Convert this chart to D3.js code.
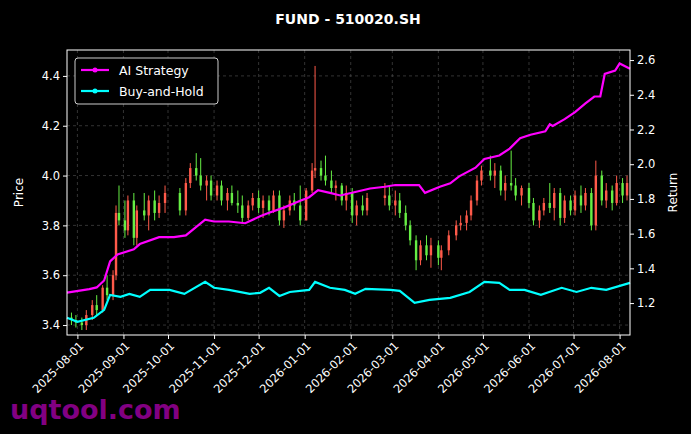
<!DOCTYPE html><html><head><meta charset="utf-8"><script src="https://cdn.jsdelivr.net/npm/d3@7"></script>
<style>body{margin:0;background:#000}</style></head><body><svg id="c" width="691" height="434"></svg>
<script>
const candles=[
["2025-07-28",3.43,3.45,3.40,3.42],["2025-07-31",3.42,3.44,3.39,3.41],["2025-08-04",3.41,3.43,3.38,3.40],["2025-08-07",3.40,3.46,3.38,3.44],
["2025-08-11",3.44,3.50,3.42,3.48],["2025-08-14",3.48,3.52,3.44,3.46],["2025-08-18",3.46,3.56,3.45,3.55],["2025-08-21",3.55,3.60,3.50,3.52],
["2025-08-25",3.52,3.62,3.50,3.60],["2025-08-27",3.60,3.88,3.58,3.85],["2025-08-29",3.85,3.96,3.80,3.82],["2025-09-02",3.82,3.90,3.75,3.78],
["2025-09-04",3.78,3.92,3.76,3.90],["2025-09-08",3.90,3.93,3.72,3.75],["2025-09-10",3.75,3.88,3.72,3.86],["2025-09-15",3.86,3.93,3.82,3.84],
["2025-09-18",3.84,3.92,3.78,3.90],["2025-09-22",3.90,3.94,3.82,3.85],["2025-09-25",3.85,3.92,3.83,3.89],["2025-09-29",3.89,3.96,3.85,3.93],
["2025-10-09",3.93,3.95,3.84,3.86],["2025-10-13",3.86,3.99,3.84,3.97],["2025-10-16",3.97,4.05,3.95,4.03],["2025-10-20",4.03,4.09,3.98,4.00],
["2025-10-23",4.00,4.07,3.94,3.96],["2025-10-27",3.96,4.00,3.90,3.98],["2025-10-30",3.98,4.00,3.90,3.92],["2025-11-03",3.92,3.98,3.90,3.96],
["2025-11-06",3.96,3.98,3.88,3.90],["2025-11-10",3.90,3.95,3.86,3.93],["2025-11-13",3.93,3.96,3.88,3.89],["2025-11-17",3.89,3.94,3.85,3.88],
["2025-11-20",3.88,3.92,3.81,3.83],["2025-11-24",3.83,3.90,3.82,3.88],["2025-11-27",3.88,3.93,3.86,3.91],["2025-12-01",3.91,3.94,3.85,3.87],
["2025-12-04",3.87,3.92,3.83,3.90],["2025-12-08",3.90,3.92,3.84,3.86],["2025-12-11",3.86,3.94,3.85,3.92],["2025-12-15",3.92,3.94,3.80,3.82],
["2025-12-18",3.82,3.88,3.79,3.86],["2025-12-22",3.86,3.92,3.84,3.90],["2025-12-25",3.90,3.93,3.86,3.88],["2025-12-29",3.88,3.96,3.80,3.82],
["2026-01-02",3.82,3.95,3.82,3.94],["2026-01-06",3.94,4.05,3.93,4.02],["2026-01-08",4.02,4.44,3.99,4.03],["2026-01-12",4.03,4.06,3.98,4.00],
["2026-01-15",4.00,4.08,3.96,3.98],["2026-01-19",3.98,4.02,3.93,3.95],["2026-01-22",3.95,3.98,3.90,3.96],["2026-01-26",3.96,3.97,3.88,3.90],
["2026-01-29",3.90,3.96,3.86,3.93],["2026-02-02",3.93,3.95,3.81,3.84],["2026-02-05",3.84,3.90,3.80,3.88],["2026-02-09",3.88,3.92,3.84,3.86],
["2026-02-12",3.86,3.93,3.84,3.91],["2026-02-24",3.91,3.97,3.88,3.92],["2026-02-27",3.92,3.96,3.86,3.88],["2026-03-03",3.88,3.94,3.84,3.90],
["2026-03-06",3.90,3.93,3.83,3.85],["2026-03-10",3.85,3.88,3.78,3.80],["2026-03-13",3.80,3.82,3.72,3.74],["2026-03-17",3.74,3.76,3.62,3.66],
["2026-03-20",3.66,3.74,3.64,3.72],["2026-03-24",3.72,3.76,3.66,3.68],["2026-03-27",3.68,3.75,3.63,3.72],["2026-04-01",3.72,3.74,3.64,3.67],
["2026-04-03",3.67,3.72,3.62,3.70],["2026-04-08",3.70,3.78,3.68,3.76],["2026-04-13",3.76,3.82,3.74,3.80],["2026-04-16",3.80,3.84,3.78,3.81],
["2026-04-20",3.81,3.86,3.78,3.84],["2026-04-23",3.84,3.92,3.82,3.90],["2026-04-27",3.90,4.00,3.88,3.98],["2026-04-30",3.98,4.04,3.96,4.02],
["2026-05-06",4.02,4.08,3.98,4.00],["2026-05-09",4.00,4.05,3.95,4.02],["2026-05-13",4.02,4.04,3.92,3.94],["2026-05-16",3.94,4.00,3.90,3.97],
["2026-05-20",3.97,4.10,3.94,3.96],["2026-05-23",3.96,3.99,3.90,3.92],["2026-05-27",3.92,3.96,3.88,3.95],["2026-06-01",3.95,3.97,3.87,3.89],
["2026-06-04",3.89,3.91,3.80,3.82],["2026-06-08",3.82,3.88,3.79,3.86],["2026-06-11",3.86,3.91,3.84,3.89],["2026-06-15",3.89,3.97,3.85,3.87],
["2026-06-18",3.87,3.95,3.82,3.93],["2026-06-22",3.93,3.95,3.80,3.83],["2026-06-25",3.83,3.92,3.81,3.90],["2026-06-29",3.90,3.92,3.84,3.86],
["2026-07-02",3.86,3.94,3.84,3.92],["2026-07-06",3.92,3.96,3.85,3.88],["2026-07-09",3.88,3.95,3.86,3.93],["2026-07-13",3.93,3.95,3.78,3.80],
["2026-07-16",3.80,4.06,3.78,4.00],["2026-07-20",4.00,4.02,3.88,3.90],["2026-07-23",3.90,3.97,3.87,3.94],["2026-07-27",3.94,3.96,3.86,3.89],
["2026-07-30",3.89,4.00,3.88,3.97],["2026-08-03",3.97,3.99,3.89,3.92],["2026-08-06",3.92,4.00,3.90,3.97]];
const aiStrategy=[["2025-07-25",1.26],["2025-08-09",1.28],["2025-08-14",1.29],["2025-08-19",1.33],["2025-08-23",1.44],["2025-08-28",1.48],["2025-09-08",1.51],["2025-09-12",1.54],["2025-09-25",1.58],["2025-10-05",1.58],["2025-10-13",1.59],["2025-10-26",1.68],["2025-11-01",1.67],["2025-11-11",1.67],["2025-11-22",1.66],["2025-12-02",1.70],["2025-12-08",1.72],["2025-12-18",1.75],["2025-12-29",1.79],["2026-01-04",1.81],["2026-01-10",1.85],["2026-01-18",1.835],["2026-01-25",1.82],["2026-02-04",1.84],["2026-02-14",1.86],["2026-02-24",1.87],["2026-03-03",1.88],["2026-03-19",1.88],["2026-03-23",1.835],["2026-04-02",1.87],["2026-04-09",1.89],["2026-04-15",1.93],["2026-04-26",1.98],["2026-05-02",2.03],["2026-05-12",2.05],["2026-05-19",2.09],["2026-05-26",2.15],["2026-06-02",2.17],["2026-06-12",2.19],["2026-06-15",2.23],["2026-06-17",2.22],["2026-06-25",2.26],["2026-07-02",2.30],["2026-07-09",2.35],["2026-07-15",2.39],["2026-07-19",2.39],["2026-07-22",2.52],["2026-07-29",2.54],["2026-08-01",2.58],["2026-08-08",2.55]];
const buyHold=[["2025-07-25",1.115],["2025-08-01",1.092],["2025-08-12",1.115],["2025-08-19",1.161],["2025-08-23",1.247],["2025-08-30",1.236],["2025-09-05",1.253],["2025-09-12",1.236],["2025-09-19",1.276],["2025-10-02",1.276],["2025-10-12",1.253],["2025-10-26",1.322],["2025-11-01",1.288],["2025-11-11",1.276],["2025-11-25",1.253],["2025-12-02",1.259],["2025-12-08",1.288],["2025-12-15",1.241],["2025-12-22",1.264],["2026-01-04",1.276],["2026-01-08",1.322],["2026-01-18",1.288],["2026-01-28",1.276],["2026-02-04",1.253],["2026-02-11",1.282],["2026-02-28",1.276],["2026-03-06",1.27],["2026-03-16",1.201],["2026-03-26",1.218],["2026-04-09",1.23],["2026-04-22",1.264],["2026-05-02",1.322],["2026-05-12",1.316],["2026-05-19",1.276],["2026-05-29",1.276],["2026-06-09",1.247],["2026-06-23",1.288],["2026-07-03",1.264],["2026-07-13",1.288],["2026-07-23",1.276],["2026-08-08",1.316]];
const priceTicks=[3.4,3.6,3.8,4.0,4.2,4.4];
const returnTicks=[1.2,1.4,1.6,1.8,2.0,2.2,2.4,2.6];
const dateTicks=["2025-08-01","2025-09-01","2025-10-01","2025-11-01","2025-12-01","2026-01-01","2026-02-01","2026-03-01","2026-04-01","2026-05-01","2026-06-01","2026-07-01","2026-08-01"];

const P=d3.timeParse("%Y-%m-%d");
const svg=d3.select("#c");
svg.append("rect").attr("width",691).attr("height",434).attr("fill","#000");
const L=67,R=630,T=50,B=335;
const x=d3.scaleTime().domain([P("2025-07-25"),P("2026-08-08")]).range([L,R]);
const y=d3.scaleLinear().domain([3.36,4.504]).range([B,T]);
const y2=d3.scaleLinear().domain([1.016,2.658]).range([B,T]);
const g=svg.append("g");
// grid
g.selectAll(".gx").data(dateTicks).join("line").attr("x1",d=>x(P(d))).attr("x2",d=>x(P(d))).attr("y1",T).attr("y2",B)
 .attr("stroke","#555").attr("stroke-dasharray","3,3").attr("stroke-width",0.6);
g.selectAll(".gy").data(priceTicks).join("line").attr("y1",d=>y(d)).attr("y2",d=>y(d)).attr("x1",L).attr("x2",R)
 .attr("stroke","#555").attr("stroke-dasharray","3,3").attr("stroke-width",0.6);
// candles
const up="#ff5a4a",dn="#66ee44";
const cg=g.append("g");
candles.forEach(c=>{const d=P(c[0]),col=c[4]>=c[1]?up:dn;
 cg.append("line").attr("x1",x(d)).attr("x2",x(d)).attr("y1",y(c[2])).attr("y2",y(c[3])).attr("stroke",col).attr("stroke-width",1);
 cg.append("rect").attr("x",x(d)-1.2).attr("width",2.4).attr("y",y(Math.max(c[1],c[4]))).attr("height",Math.max(1,Math.abs(y(c[1])-y(c[4])))).attr("fill",col);
});
const line=d3.line().x(d=>x(P(d[0]))).y(d=>y2(d[1]));
[[aiStrategy,"#ff00ff"],[buyHold,"#00ffff"]].forEach(([s,c])=>{
 g.append("path").datum(s).attr("d",line).attr("fill","none").attr("stroke",c).attr("stroke-width",2.2);
});
// axes
const fx=g=>g.selectAll("text").attr("fill","#fff").style("font-family","DejaVu Sans").style("font-size","11.5px");
const ax=svg.append("g").attr("transform",`translate(0,${B})`).call(d3.axisBottom(x).tickValues(dateTicks.map(P)).tickFormat(d3.timeFormat("%Y-%m-%d")).tickSize(4));
ax.call(fx); ax.selectAll("text").attr("text-anchor","end").attr("dx","-0.3em").attr("dy","0.5em").attr("transform","rotate(-45)");
const ay=svg.append("g").attr("transform",`translate(${L},0)`).call(d3.axisLeft(y).tickValues(priceTicks).tickFormat(d3.format(".1f")).tickSize(4)); ay.call(fx);
const ay2=svg.append("g").attr("transform",`translate(${R},0)`).call(d3.axisRight(y2).tickValues(returnTicks).tickFormat(d3.format(".1f")).tickSize(4)); ay2.call(fx);
svg.selectAll(".domain").remove(); svg.selectAll(".tick line").attr("stroke","#fff");
svg.append("rect").attr("x",L).attr("y",T).attr("width",R-L).attr("height",B-T).attr("fill","none").attr("stroke","#fff").attr("stroke-width",1);
svg.append("text").attr("x",23).attr("y",(T+B)/2).attr("transform",`rotate(-90,23,${(T+B)/2})`).attr("text-anchor","middle").attr("fill","#fff").style("font-family","DejaVu Sans").style("font-size","12px").text("Price");
svg.append("text").attr("x",677).attr("y",(T+B)/2).attr("transform",`rotate(-90,677,${(T+B)/2})`).attr("text-anchor","middle").attr("fill","#fff").style("font-family","DejaVu Sans").style("font-size","12px").text("Return");
svg.append("text").attr("x",348).attr("y",24).attr("text-anchor","middle").attr("fill","#fff").style("font-family","DejaVu Sans").style("font-weight","bold").style("font-size","14px").text("FUND - 510020.SH");
// legend
const lg=svg.append("g").attr("transform","translate(75,58)");
lg.append("rect").attr("width",143).attr("height",46).attr("rx",3).attr("fill","#000").attr("stroke","#ccc");
[["AI Strategy","#ff00ff"],["Buy-and-Hold","#00ffff"]].forEach(([t,c],i)=>{
 const yy=12+i*21;
 lg.append("line").attr("x1",6).attr("x2",34).attr("y1",yy).attr("y2",yy).attr("stroke",c).attr("stroke-width",2.2);
 lg.append("circle").attr("cx",20).attr("cy",yy).attr("r",2.5).attr("fill",c);
 lg.append("text").attr("x",44).attr("y",yy+4.5).attr("fill","#fff").style("font-family","DejaVu Sans").style("font-size","12.5px").text(t);
});
svg.append("text").attr("x",10).attr("y",419).attr("fill","#8b008b").attr("fill-opacity",0.95).style("font-family","DejaVu Sans").style("font-weight","bold").style("font-size","27px").text("uqtool.com");
</script></body></html>
